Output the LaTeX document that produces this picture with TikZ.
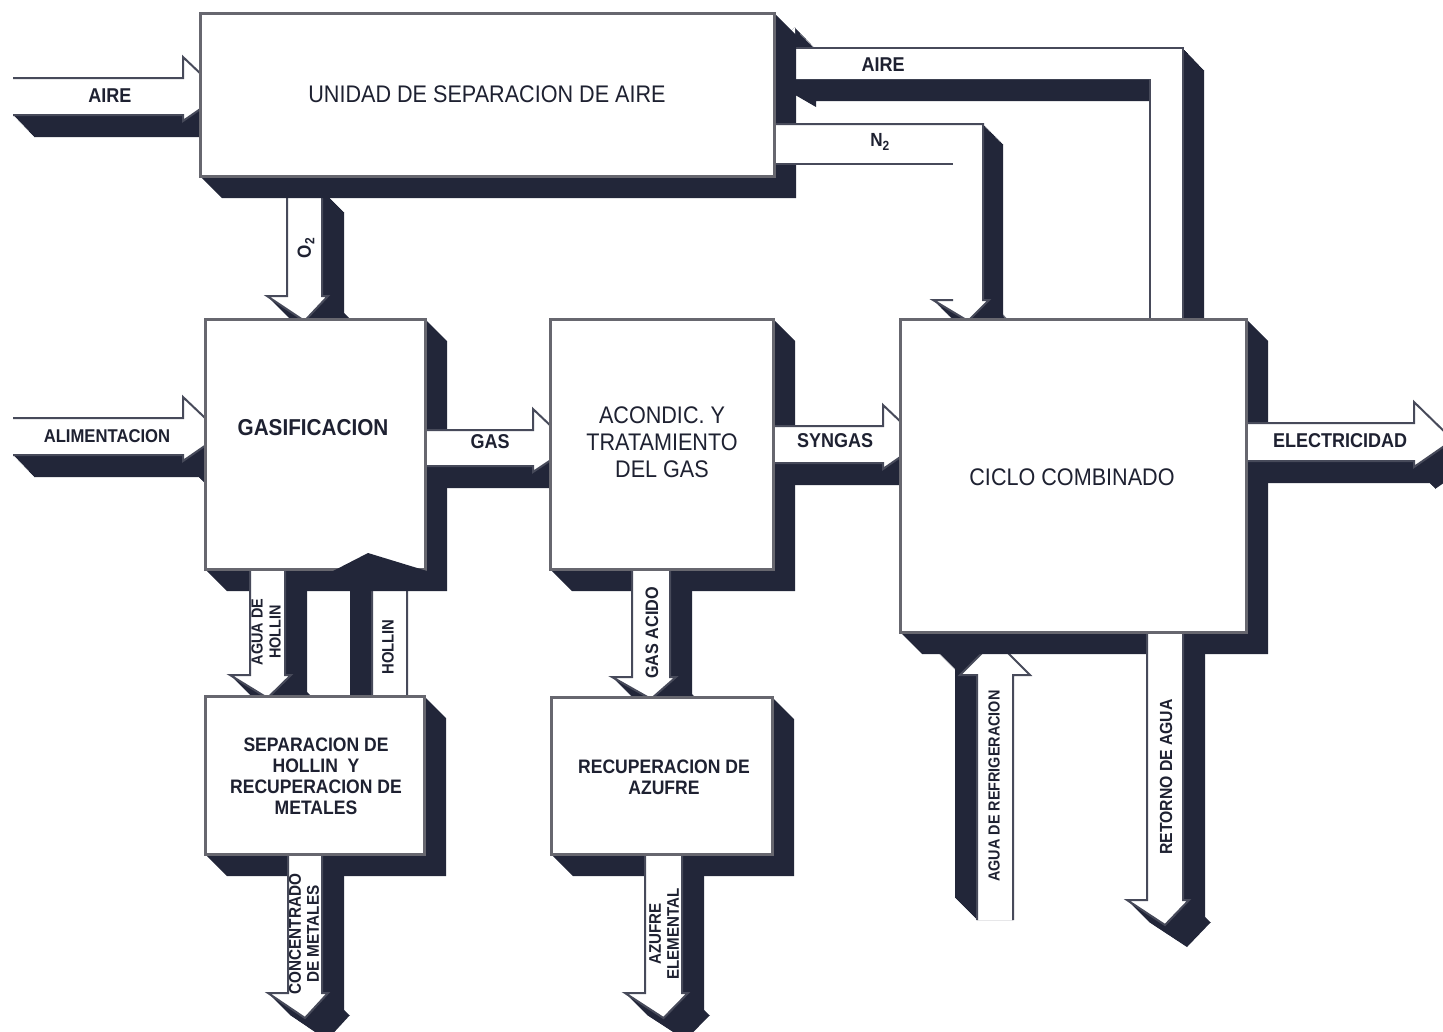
\documentclass[tikz,border=0pt]{standalone}
\usepackage{fontspec}
\setmainfont{Liberation Sans}[FakeStretch=0.9]
\definecolor{navy}{HTML}{222639}
\definecolor{edge}{HTML}{67676F}
\definecolor{aedge}{HTML}{474A5A}
\definecolor{ink}{HTML}{1E2131}

\tikzset{
  boxface/.style={draw=edge, line width=3pt, fill=white, inner sep=0pt},
  aline/.style={draw=aedge, line width=2pt, line join=miter},
  boxtxt/.style={text=ink, font=\fontsize{24}{27}\selectfont, align=center, inner sep=0pt},
  boldtxt/.style={text=ink, font=\bfseries\fontsize{19.5}{21}\selectfont, align=center, inner sep=0pt},
  lbl/.style={text=ink, font=\bfseries\fontsize{20}{22}\selectfont, inner sep=0pt},
  vlbl/.style={text=ink, font=\bfseries\fontsize{16.5}{18}\selectfont, inner sep=0pt, rotate=90, align=center},
}

% solid extrusion of a polygon along (#1,#2)
\newcommand\extr[3]{\foreach \k in {0,...,22}{\fill[navy, shift={({#1*\k/22},{#2*\k/22})}] #3;}}
% block arrow: extrusion, white face, outline
\newcommand\barrow[4]{\extr{#1}{#2}{#3}\fill[white] #3; \draw[aline] #4;}
% shadow of a box face (x1,y1,x2,y2)
\newcommand\boxshadow[4]{\fill[navy] (#1,#4) -- ({#1+22},{#4+22}) -- ({#3+22},{#4+22}) -- ({#3+22},{#2+22}) -- (#3,#2) -- (#3,#4) -- cycle;}

\begin{document}
\begin{tikzpicture}[x=1pt,y=-1pt]
\useasboundingbox (0,0) rectangle (1443,1031);
\clip (0,0) rectangle (1443,1031);

% O2 feed to gasification
\barrow{22}{22}{(287,190)--(322,190)--(322,296)--(328,296)--(304.5,321)--(267,296)--(287,296)--cycle}
  {(287,190)--(287,296)--(267,296)--(304.5,321)--(328,296)--(322,296)--(322,190)}

% air returned from the combined cycle
\extr{21}{22}{(1183,48)--(795,48)--(795,27)--(757,63)--(795,85)--(795,79)--(1150,79)--(1150,330)--(1183,330)--cycle}
\fill[white] (1183,48)--(795,48)--(795,27)--(757,63)--(795,85)--(795,79)--(1150,79)--(1150,330)--(1183,330)--cycle;
\draw[aline] (795,48)--(1183,48)--(1183,330);
\draw[aline] (1150,330)--(1150,79);

% air inlet
\barrow{21}{22}{(13,78)--(183,78)--(183,57)--(222,94)--(183,121)--(183,115)--(13,115)--cycle}
  {(13,78)--(183,78)--(183,57)--(222,94)--(183,121)--(183,115)--(13,115)}

\boxshadow{200}{13}{774}{176}

% nitrogen line
\extr{20}{20}{(953,124)--(983,124)--(983,300)--(989,300)--(968,321)--(933,300)--(953,300)--cycle}
\fill[white] (953,124)--(983,124)--(983,300)--(989,300)--(968,321)--(933,300)--(953,300)--cycle;
\fill[white] (774,124) rectangle (983,164);
\draw[aline] (774,124)--(983,124)--(983,300)--(989,300)--(968,321)--(933,300)--(953,300);
\draw[aline] (774,164)--(953,164);

\node[boxface, minimum width=574pt, minimum height=163pt] (usa) at (487,94.5) {};
\node[boxtxt] (usa-t) at (487,94) {UNIDAD DE SEPARACION DE AIRE};

% upward streams
\barrow{-22}{-22}{(372,720)--(372,588)--(366,588)--(389.5,572)--(420,588)--(407,588)--(407,720)--cycle}
  {(372,720)--(372,588)--(366,588)--(389.5,572)--(420,588)--(407,588)--(407,720)}
\barrow{-22}{-22}{(977,920)--(977,675)--(960,675)--(995,640)--(1030,675)--(1013,675)--(1013,920)--cycle}
  {(977,920)--(977,675)--(960,675)--(995,640)--(1030,675)--(1013,675)--(1013,920)}

\boxshadow{205}{319}{425}{569}
\boxshadow{550}{319}{773}{569}
\boxshadow{900}{319}{1246}{632}

% main line arrows
\barrow{21}{22}{(13,418)--(183,418)--(183,397)--(222,434)--(183,461)--(183,455)--(13,455)--cycle}
  {(13,418)--(183,418)--(183,397)--(222,434)--(183,461)--(183,455)--(13,455)}
\barrow{21}{22}{(415,430)--(533,430)--(533,409)--(572,446)--(533,472)--(533,466)--(415,466)--cycle}
  {(415,430)--(533,430)--(533,409)--(572,446)--(533,472)--(533,466)--(415,466)}
\barrow{21}{22}{(760,426)--(883,426)--(883,405)--(922,442)--(883,469)--(883,463)--(760,463)--cycle}
  {(760,426)--(883,426)--(883,405)--(922,442)--(883,469)--(883,463)--(760,463)}
\barrow{21}{22}{(1240,423)--(1414,423)--(1414,402)--(1453,440)--(1414,467)--(1414,461)--(1240,461)--cycle}
  {(1240,423)--(1414,423)--(1414,402)--(1453,440)--(1414,467)--(1414,461)--(1240,461)}

% downward streams
\barrow{22}{22}{(250,560)--(285,560)--(285,675)--(291,675)--(267.5,698)--(230,675)--(250,675)--cycle}
  {(250,560)--(250,675)--(230,675)--(267.5,698)--(291,675)--(285,675)--(285,560)}
\barrow{22}{22}{(632,560)--(670,560)--(670,677)--(676,677)--(651,699)--(612,677)--(632,677)--cycle}
  {(632,560)--(632,677)--(612,677)--(651,699)--(676,677)--(670,677)--(670,560)}
\barrow{22}{22}{(1147,625)--(1183,625)--(1183,900)--(1189,900)--(1165,925)--(1127,900)--(1147,900)--cycle}
  {(1147,625)--(1147,900)--(1127,900)--(1165,925)--(1189,900)--(1183,900)--(1183,625)}

\node[boxface, minimum width=220pt, minimum height=250pt] (gasif) at (315,444) {};
\node[boxface, minimum width=223pt, minimum height=250pt] (acond) at (661.5,444) {};
\node[boxface, minimum width=346pt, minimum height=313pt] (ciclo) at (1073,475.5) {};
\node[text=ink, font=\bfseries\fontsize{23}{26}\selectfont, inner sep=0pt] (gasif-t) at (313,428) {GASIFICACION};
\node[boxtxt] (acond-t) at (662,442) {ACONDIC. Y\\TRATAMIENTO\\DEL GAS};
\node[boxtxt] (ciclo-t) at (1072,477) {CICLO COMBINADO};

% soot return entering the gasifier
\fill[navy] (333,571)--(368,553)--(427,571)--cycle;

\boxshadow{205}{696}{424}{854}
\boxshadow{551}{697}{772}{854}

\barrow{22}{22}{(288,845)--(322,845)--(322,993)--(328,993)--(305,1018)--(268,993)--(288,993)--cycle}
  {(288,845)--(288,993)--(268,993)--(305,1018)--(328,993)--(322,993)--(322,845)}
\barrow{22}{22}{(645,845)--(682,845)--(682,993)--(688,993)--(663.5,1018)--(625,993)--(645,993)--cycle}
  {(645,845)--(645,993)--(625,993)--(663.5,1018)--(688,993)--(682,993)--(682,845)}

\node[boxface, minimum width=219pt, minimum height=158pt] (sep) at (314.5,775) {};
\node[boxface, minimum width=221pt, minimum height=157pt] (recup) at (661.5,775.5) {};
\node[boldtxt] (sep-t) at (316,776) {SEPARACION DE\\HOLLIN\ \ Y\\RECUPERACION DE\\METALES};
\node[boldtxt] (recup-t) at (664,777) {RECUPERACION DE\\AZUFRE};

% stream labels
\node[lbl] (l-aire1) at (110,96) {AIRE};
\node[lbl] (l-aire2) at (883,65) {AIRE};
\node[lbl, font=\bfseries\fontsize{19}{21}\selectfont] (l-n2) at (880,142) {N\textsubscript{2}};
\node[lbl, font=\bfseries\fontsize{18.5}{20}\selectfont] (l-alim) at (107,436) {ALIMENTACION};
\node[lbl] (l-gas) at (490,442) {GAS};
\node[lbl] (l-syn) at (835,441) {SYNGAS};
\node[lbl] (l-elec) at (1340,441) {ELECTRICIDAD};
\node[vlbl, font=\bfseries\fontsize{19}{21}\selectfont] (l-o2) at (306,248) {O\textsubscript{2}};
\node[vlbl, font=\bfseries\fontsize{16}{18}\selectfont] (l-agh) at (266,632) {AGUA DE\\HOLLIN};
\node[vlbl] (l-hol) at (388,647) {HOLLIN};
\node[vlbl, font=\bfseries\fontsize{18}{20}\selectfont] (l-acido) at (652,633) {GAS ACIDO};
\node[vlbl, font=\bfseries\fontsize{17}{18}\selectfont] (l-conc) at (304,934) {CONCENTRADO\\DE METALES};
\node[vlbl, font=\bfseries\fontsize{16.8}{18}\selectfont] (l-azu) at (664,934) {AZUFRE\\ELEMENTAL};
\node[vlbl, font=\bfseries\fontsize{16}{18}\selectfont] (l-refr) at (994,786) {AGUA DE REFRIGERACION};
\node[vlbl, font=\bfseries\fontsize{17.5}{19}\selectfont] (l-ret) at (1166,777) {RETORNO DE AGUA};
\end{tikzpicture}
\end{document}
